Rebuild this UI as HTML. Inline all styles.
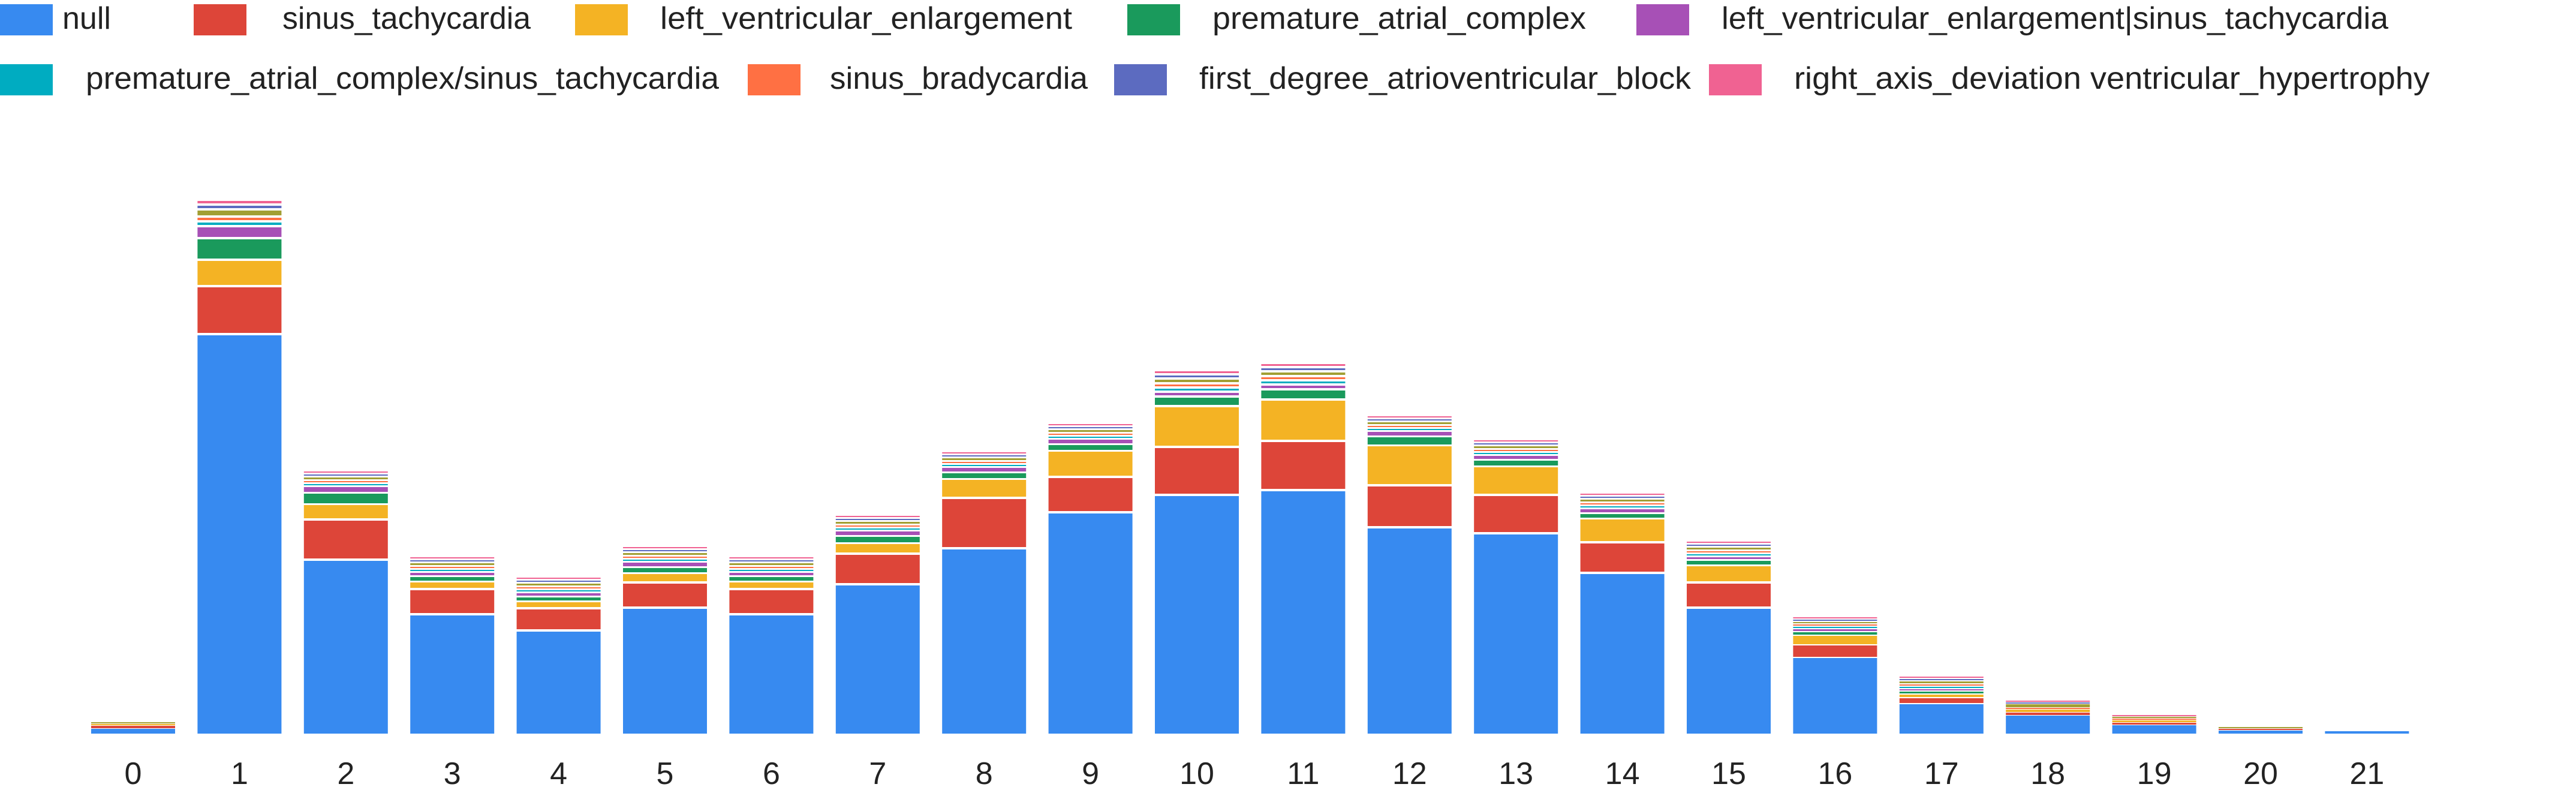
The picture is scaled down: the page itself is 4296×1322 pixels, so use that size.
<!DOCTYPE html>
<html><head><meta charset="utf-8"><style>
html,body{margin:0;padding:0;background:#fff;width:4296px;height:1322px;overflow:hidden}
svg{display:block}
text{font-family:"Liberation Sans",sans-serif;fill:#222}
</style></head><body>
<svg id="s" width="4296" height="1322" xmlns="http://www.w3.org/2000/svg">
<g font-size="52">
<rect x="0" y="7" width="88" height="52" fill="#378AF0"/><text x="104" y="48">null</text>
<rect x="323" y="7" width="88" height="52" fill="#DD4539"/><text x="471" y="48" textLength="414" lengthAdjust="spacingAndGlyphs">sinus_tachycardia</text>
<rect x="959" y="7" width="88" height="52" fill="#F4B324"/><text x="1101" y="48" textLength="687" lengthAdjust="spacingAndGlyphs">left_ventricular_enlargement</text>
<rect x="1880" y="7" width="88" height="52" fill="#1A9A5C"/><text x="2022" y="48" textLength="623" lengthAdjust="spacingAndGlyphs">premature_atrial_complex</text>
<rect x="2729" y="7" width="88" height="52" fill="#A750B6"/><text x="2871" y="48" textLength="1112" lengthAdjust="spacingAndGlyphs">left_ventricular_enlargement|sinus_tachycardia</text>
<rect x="0" y="107" width="88" height="52" fill="#00ACC1"/><text x="143" y="148" textLength="1056" lengthAdjust="spacingAndGlyphs">premature_atrial_complex/sinus_tachycardia</text>
<rect x="1247" y="107" width="88" height="52" fill="#FF7043"/><text x="1384" y="148" textLength="430" lengthAdjust="spacingAndGlyphs">sinus_bradycardia</text>
<rect x="1858" y="107" width="88" height="52" fill="#5C6BC0"/><text x="2000" y="148" textLength="820" lengthAdjust="spacingAndGlyphs">first_degree_atrioventricular_block</text>
<rect x="2850" y="107" width="88" height="52" fill="#F06292"/><text x="2992" y="148" textLength="1060" lengthAdjust="spacingAndGlyphs">right_axis_deviation ventricular_hypertrophy</text>
</g>
<g id="bars"></g>
<g id="lbl" font-size="52" text-anchor="middle"></g>
</svg>
<script>
var C=["#378AF0","#DD4539","#F4B324","#1A9A5C","#A750B6","#00ACC1","#FF7043","#A29F33","#5C6BC0","#F06292"];
var D=[
[8,4,2,0,0,0,0,2,0,0],
[664,76,40,32,16,4,4,8,4,4],
[288,63,22,16,8,2,2,3,2,2],
[197,38,9,6,4,2,2,3,2,2],
[170,33,8,5,4,2,2,3,2,2],
[208,38,12,7,6,2,2,3,2,2],
[197,38,9,6,4,2,2,3,2,2],
[247,47,14,9,6,2,2,3,2,2],
[307,80,28,8,6,2,2,3,2,2],
[367,55,40,8,6,2,2,3,2,2],
[396,76,64,12,4,3,3,4,3,3],
[404,78,65,13,4,3,3,4,3,3],
[342,66,63,12,6,2,2,3,2,2],
[332,60,44,8,5,2,2,3,2,2],
[266,47,36,6,5,2,2,3,2,2],
[208,38,25,6,3,2,2,3,2,2],
[126,19,14,4,3,2,2,2,2,2],
[49,8,4,3,2,2,2,3,2,2],
[30,4,4,0,0,0,2,5,2,2],
[14,3,3,0,0,0,2,2,0,2],
[5,2,0,0,0,0,0,2,0,0],
[4,0,0,0,0,0,0,0,0,0]];
var g=document.getElementById("bars"),L=document.getElementById("lbl"),h="";
for(var i=0;i<22;i++){var cx=222+i*177.4,x=cx-70,y=1223;
 for(var k=0;k<10;k++){var v=D[i][k];if(!v)continue;y-=v;h+='<rect x="'+x+'" y="'+y+'" width="140" height="'+v+'" fill="'+C[k]+'"/>';
  var gap=(i==0||i>=18)?1:(i>=16?2:(k<2||i==1||i==10||i==11?4:3));y-=gap;}
 L.innerHTML+='<text x="'+cx+'" y="1307">'+i+'</text>';}
g.innerHTML=h;
</script>
</body></html>
